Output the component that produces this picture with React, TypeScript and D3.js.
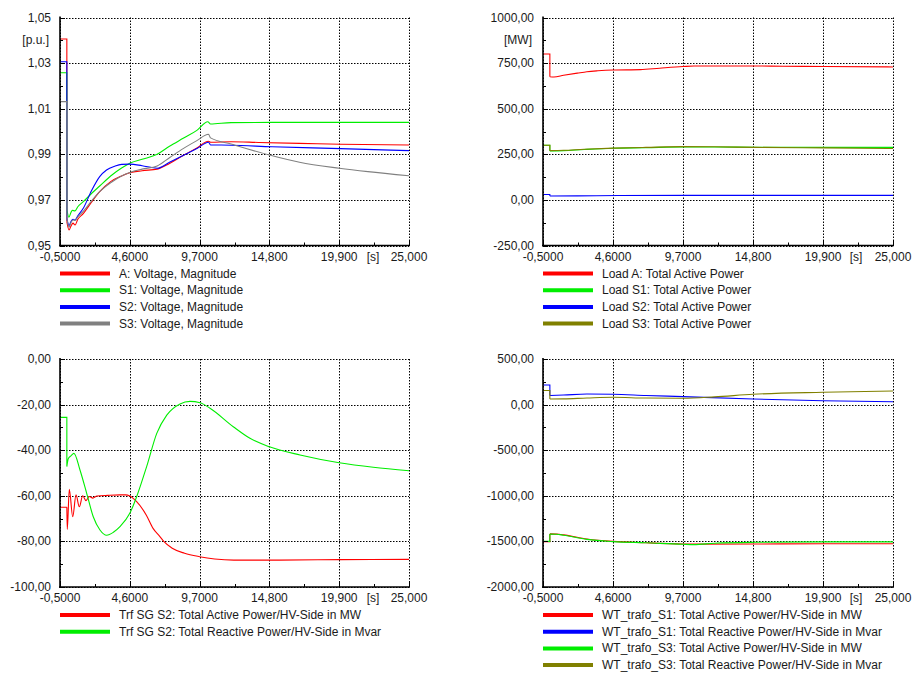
import React from "react";
import * as d3 from "d3";

// ---------- shared axis data ----------
const xTickValues = [-0.5, 4.6, 9.7, 14.8, 19.9, 25];
const xTickLabels = ["-0,5000", "4,6000", "9,7000", "14,800", "19,900", "25,000"];

// ---------- Panel 1: voltages ----------
const p1YTicks = [0.95, 0.97, 0.99, 1.01, 1.03, 1.05];
const p1YLabels = ["0,95", "0,97", "0,99", "1,01", "1,03", "1,05"];

const tVA = [-0.5, 0, 0, 0.16, 0.3, 0.45, 0.6, 0.8, 1.2, 1.8, 2.4, 3.2, 4.0, 4.6, 5.5, 6.6, 7.5, 8.5, 9.5, 10.35, 10.5, 12, 14, 17, 20, 25];
const vVA = [1.0406, 1.0406, 0.9605, 0.9568, 0.9585, 0.9598, 0.959, 0.9615, 0.964, 0.969, 0.9736, 0.978, 0.9805, 0.9819, 0.9828, 0.9835, 0.986, 0.9895, 0.9928, 0.9957, 0.9953, 0.9955, 0.9952, 0.9948, 0.9944, 0.9941];

const tVS1 = [-0.5, 0, 0, 0.15, 0.3, 0.4, 0.6, 0.8, 1.2, 1.8, 2.4, 3.2, 4.0, 4.6, 5.5, 6.6, 7.5, 8.5, 9.5, 10.3, 10.5, 12, 15, 20, 25];
const vVS1 = [1.0258, 1.0258, 0.966, 0.9624, 0.9645, 0.9654, 0.9652, 0.967, 0.9692, 0.9728, 0.9761, 0.9805, 0.984, 0.9861, 0.9878, 0.99, 0.9935, 0.997, 1.0005, 1.0043, 1.0033, 1.0039, 1.004, 1.004, 1.004];

const tVS2 = [-0.5, 0, 0, 0.16, 0.3, 0.45, 0.6, 0.8, 1.2, 1.8, 2.4, 2.9, 3.5, 4.0, 4.6, 5.5, 6.6, 7.5, 8.5, 9.5, 10.35, 10.5, 12, 15, 20, 25];
const vVS2 = [1.0306, 1.0306, 0.962, 0.9587, 0.9605, 0.9615, 0.9612, 0.963, 0.9663, 0.974, 0.9802, 0.9831, 0.9848, 0.9856, 0.9857, 0.985, 0.9839, 0.9865, 0.9895, 0.9925, 0.9953, 0.9941, 0.994, 0.9933, 0.9925, 0.9916];

const tVS3 = [-0.5, 0, 0, 0.16, 0.3, 0.45, 0.6, 0.8, 1.2, 1.8, 2.4, 3.2, 4.0, 4.6, 5.5, 6.6, 7.5, 8.5, 9.5, 10.35, 10.5, 12, 14.8, 17, 19.9, 22, 25];
const vVS3 = [1.0131, 1.0131, 0.962, 0.958, 0.96, 0.9612, 0.961, 0.9625, 0.965, 0.9695, 0.9736, 0.9775, 0.9805, 0.982, 0.9835, 0.9849, 0.9885, 0.9925, 0.996, 0.9988, 0.9972, 0.9945, 0.9897, 0.9865, 0.9839, 0.9824, 0.9806];

// ---------- Panel 2: load active power ----------
const p2YTicks = [-250, 0, 250, 500, 750, 1000];
const p2YLabels = ["-250,00", "0,00", "250,00", "500,00", "750,00", "1000,00"];

const tLA = [-0.5, 0, 0, 0.3, 1, 2, 2.7, 3.5, 4.6, 6.6, 8, 9.7, 10.5, 14.8, 17, 20, 25];
const vLA = [800, 800, 675, 674, 683, 695, 703, 708, 712, 714, 722, 731, 734, 734, 733, 731, 729];

const tLS1 = [-0.5, 0, 0, 1, 2.5, 4.6, 7, 9.7, 12, 15, 20, 25];
const vLS1 = [300, 300, 268, 270, 276, 283, 286, 290, 290, 289, 288, 288];

const tLS2 = [-0.5, 0, 0, 2, 5, 10, 25];
const vLS2 = [30, 30, 21, 22, 24, 25, 25];

const tLS3 = [-0.5, 0, 0, 1, 2.5, 4.6, 7, 9.7, 12, 15, 20, 25];
const vLS3 = [300, 300, 270, 272, 278, 284, 288, 292, 291, 288, 285, 282];

// ---------- Panel 3: Trf SG S2 ----------
const p3YTicks = [-100, -80, -60, -40, -20, 0];
const p3YLabels = ["-100,00", "-80,00", "-60,00", "-40,00", "-20,00", "0,00"];

const tSGP = [-0.5, 0, 0.03, 0.18, 0.43, 0.67, 0.91, 1.16, 1.4, 1.64, 1.9, 2.2, 3.0, 3.9, 4.3, 4.6, 5.1, 5.8, 6.3, 6.8, 7.1, 7.7, 8.6, 9.7, 10.8, 12.2, 15, 20, 25];
const vSGP = [-65, -65, -74.7, -57.2, -69.2, -59.6, -64.8, -60, -62.1, -60.3, -61, -60.1, -59.8, -59.6, -59.6, -60.1, -62.6, -68.4, -74.3, -77.9, -80.1, -83, -85.2, -86.7, -87.7, -88.2, -88.2, -88, -87.9];

const tSGQ = [-0.5, 0, 0, 0.11, 0.3, 0.52, 0.96, 1.45, 1.93, 2.42, 2.91, 3.4, 3.88, 4.6, 5.1, 5.83, 6.57, 7.3, 8.27, 9.0, 9.73, 10.46, 12.16, 13.38, 14.8, 17.04, 19.9, 22.39, 25];
const vSGQ = [-25.6, -25.6, -47.2, -43.6, -42.5, -41.4, -48.7, -58.9, -69.2, -75, -77.3, -76, -73.5, -67.7, -60.4, -47.2, -32.6, -24.6, -19.7, -18.6, -19.2, -21.6, -29.7, -34.8, -38.5, -42.1, -45.5, -47.5, -49];

// ---------- Panel 4: WT trafos ----------
const p4YTicks = [-2000, -1500, -1000, -500, 0, 500];
const p4YLabels = ["-2000,00", "-1500,00", "-1000,00", "-500,00", "0,00", "500,00"];

const tW1P = [-0.5, 0, 0, 0.5, 1, 2.7, 4.6, 7, 9.7, 10.5, 15, 20, 25];
const vW1P = [-1503, -1503, -1418, -1420, -1428, -1473, -1500, -1515, -1528, -1530, -1528, -1526, -1525];

const tW1Q = [-0.5, 0, 0, 1, 2.7, 4.6, 7, 9.7, 14.8, 19.9, 25];
const vW1Q = [215, 215, 100, 105, 116, 113, 100, 87, 61, 43, 32];

const tW3P = [-0.5, 0, 0, 0.5, 1, 2.7, 4.6, 7, 9.7, 10.5, 12, 15, 20, 25];
const vW3P = [-1500, -1500, -1420, -1422, -1432, -1478, -1502, -1515, -1532, -1535, -1520, -1510, -1505, -1505];

const tW3Q = [-0.5, 0, 0, 1, 2.7, 4.6, 7, 9.7, 12, 14.8, 19.9, 25];
const vW3Q = [155, 155, 61, 63, 72, 80, 72, 70, 85, 113, 135, 149];

// ---------- legend labels ----------
const p1Legend = ["A: Voltage, Magnitude", "S1: Voltage, Magnitude", "S2: Voltage, Magnitude", "S3: Voltage, Magnitude"];
const p2Legend = ["Load A: Total Active Power", "Load S1: Total Active Power", "Load S2: Total Active Power", "Load S3: Total Active Power"];
const p3Legend = ["Trf SG S2: Total Active Power/HV-Side in MW", "Trf SG S2: Total Reactive Power/HV-Side in Mvar"];
const p4Legend = [
  "WT_trafo_S1: Total Active Power/HV-Side in MW",
  "WT_trafo_S1: Total Reactive Power/HV-Side in Mvar",
  "WT_trafo_S3: Total Active Power/HV-Side in MW",
  "WT_trafo_S3: Total Reactive Power/HV-Side in Mvar",
];

const RED = "#ff0000";
const GREEN = "#00ee00";
const BLUE = "#0000ff";
const GRAY = "#808080";
const OLIVE = "#808000";

type Series = { t: number[]; v: number[]; color: string; label: string };
type PanelDef = {
  left: number;
  right: number;
  top: number;
  bottom: number;
  yTicks: number[];
  yLabels: string[];
  unit?: string;
  series: Series[];
};

const FONT = "'Liberation Sans', Arial, sans-serif";
const TEXT = "#1a1a1a";

function Panel({ p }: { p: PanelDef }) {
  const x = d3.scaleLinear().domain([-0.5, 25]).range([p.left, p.right]);
  const y = d3
    .scaleLinear()
    .domain([p.yTicks[0], p.yTicks[p.yTicks.length - 1]])
    .range([p.bottom, p.top]);
  const lineLin = d3
    .line<[number, number]>()
    .x((d) => x(d[0]))
    .y((d) => y(d[1]));
  const lineSmooth = d3
    .line<[number, number]>()
    .x((d) => x(d[0]))
    .y((d) => y(d[1]))
    .curve(d3.curveMonotoneX);

  const pathFor = (s: Series) => {
    const pts = s.t.map((t, j) => [t, s.v[j]] as [number, number]);
    let k = 0;
    for (let j = 0; j < pts.length; j++) if (pts[j][0] <= 0) k = j;
    const a = lineLin(pts.slice(0, k + 1)) || "";
    const b = lineSmooth(pts.slice(k)) || "";
    return a + b;
  };

  const xMinor = xTickValues.slice(0, -1).map((v, i) => (v + xTickValues[i + 1]) / 2);
  const yMinor = p.yTicks.slice(0, -1).map((v, i) => (v + p.yTicks[i + 1]) / 2);
  const clipId = `clip-${p.left}-${Math.round(p.top)}`;

  return (
    <g>
      <defs>
        <clipPath id={clipId}>
          <rect x={p.left} y={p.top - 1} width={p.right - p.left + 1} height={p.bottom - p.top + 2} />
        </clipPath>
      </defs>
      {/* grid */}
      {xTickValues.map((v, i) => (
        <line key={"gx" + i} x1={Math.round(x(v)) + 0.5} x2={Math.round(x(v)) + 0.5} y1={p.top} y2={p.bottom} stroke="#000" strokeWidth={1} strokeDasharray="1.5,1.5" />
      ))}
      {p.yTicks.map((v, i) => (
        <line key={"gy" + i} x1={p.left} x2={p.right} y1={Math.round(y(v)) + 0.5} y2={Math.round(y(v)) + 0.5} stroke="#000" strokeWidth={1} strokeDasharray="1.5,1.5" />
      ))}
      {/* series */}
      <g clipPath={`url(#${clipId})`}>
        {p.series.map((s, i) => (
          <path key={"s" + i} d={pathFor(s)} fill="none" stroke={s.color} strokeWidth={1.1} />
        ))}
      </g>
      {/* axes */}
      <line x1={p.left} x2={p.left} y1={p.top - 1} y2={p.bottom + 1} stroke="#000" strokeWidth={1.6} />
      <line x1={p.left - 1} x2={p.right + 1} y1={p.bottom} y2={p.bottom} stroke="#000" strokeWidth={1.6} />
      {/* ticks */}
      {p.yTicks.map((v, i) => (
        <line key={"ty" + i} x1={p.left} x2={p.left + 5} y1={Math.round(y(v)) + 0.5} y2={Math.round(y(v)) + 0.5} stroke="#000" strokeWidth={1} />
      ))}
      {yMinor.map((v, i) => (
        <line key={"tym" + i} x1={p.left} x2={p.left + 3} y1={Math.round(y(v)) + 0.5} y2={Math.round(y(v)) + 0.5} stroke="#000" strokeWidth={1} />
      ))}
      {xTickValues.map((v, i) => (
        <line key={"tx" + i} x1={Math.round(x(v)) + 0.5} x2={Math.round(x(v)) + 0.5} y1={p.bottom} y2={p.bottom - 5} stroke="#000" strokeWidth={1} />
      ))}
      {xMinor.map((v, i) => (
        <line key={"txm" + i} x1={Math.round(x(v)) + 0.5} x2={Math.round(x(v)) + 0.5} y1={p.bottom} y2={p.bottom - 3} stroke="#000" strokeWidth={1} />
      ))}
      {/* labels */}
      {p.yTicks.map((v, i) => (
        <text key={"ly" + i} x={p.left - 9} y={y(v) + 4} textAnchor="end" fontSize={12} fontFamily={FONT} fill={TEXT}>
          {p.yLabels[i]}
        </text>
      ))}
      {xTickValues.map((v, i) => (
        <text key={"lx" + i} x={x(v)} y={p.bottom + 15} textAnchor="middle" fontSize={12} fontFamily={FONT} fill={TEXT}>
          {xTickLabels[i]}
        </text>
      ))}
      <text x={p.left + 313} y={p.bottom + 15} textAnchor="middle" fontSize={12} fontFamily={FONT} fill={TEXT}>
        [s]
      </text>
      {p.unit && (
        <text x={p.left - 11} y={y(yMinor[yMinor.length - 1]) + 4} textAnchor="end" fontSize={12} fontFamily={FONT} fill={TEXT}>
          {p.unit}
        </text>
      )}
      {/* legend */}
      {p.series.map((s, i) => {
        const ly = p.bottom + 28 + i * 16.7;
        return (
          <g key={"lg" + i}>
            <line x1={p.left} x2={p.left + 50} y1={ly} y2={ly} stroke={s.color} strokeWidth={4} />
            <text x={p.left + 59} y={ly + 4} fontSize={12} fontFamily={FONT} fill={TEXT}>
              {s.label}
            </text>
          </g>
        );
      })}
    </g>
  );
}

export default function App() {
  const panels: PanelDef[] = [
    {
      left: 60, right: 409, top: 17.5, bottom: 245.5,
      yTicks: p1YTicks, yLabels: p1YLabels, unit: "[p.u.]",
      series: [
        { t: tVA, v: vVA, color: RED, label: p1Legend[0] },
        { t: tVS1, v: vVS1, color: GREEN, label: p1Legend[1] },
        { t: tVS2, v: vVS2, color: BLUE, label: p1Legend[2] },
        { t: tVS3, v: vVS3, color: GRAY, label: p1Legend[3] },
      ],
    },
    {
      left: 543, right: 893, top: 17.5, bottom: 245.5,
      yTicks: p2YTicks, yLabels: p2YLabels, unit: "[MW]",
      series: [
        { t: tLA, v: vLA, color: RED, label: p2Legend[0] },
        { t: tLS1, v: vLS1, color: GREEN, label: p2Legend[1] },
        { t: tLS2, v: vLS2, color: BLUE, label: p2Legend[2] },
        { t: tLS3, v: vLS3, color: OLIVE, label: p2Legend[3] },
      ],
    },
    {
      left: 60, right: 409, top: 359, bottom: 587,
      yTicks: p3YTicks, yLabels: p3YLabels,
      series: [
        { t: tSGP, v: vSGP, color: RED, label: p3Legend[0] },
        { t: tSGQ, v: vSGQ, color: GREEN, label: p3Legend[1] },
      ],
    },
    {
      left: 543, right: 893, top: 359, bottom: 587,
      yTicks: p4YTicks, yLabels: p4YLabels,
      series: [
        { t: tW1P, v: vW1P, color: RED, label: p4Legend[0] },
        { t: tW1Q, v: vW1Q, color: BLUE, label: p4Legend[1] },
        { t: tW3P, v: vW3P, color: GREEN, label: p4Legend[2] },
        { t: tW3Q, v: vW3Q, color: OLIVE, label: p4Legend[3] },
      ],
    },
  ];
  return (
    <svg width={913} height={673} style={{ position: "absolute", left: 0, top: 0, background: "#fff" }}>
      <rect width={913} height={673} fill="#fff" />
      {panels.map((p, i) => (
        <Panel key={i} p={p} />
      ))}
    </svg>
  );
}
